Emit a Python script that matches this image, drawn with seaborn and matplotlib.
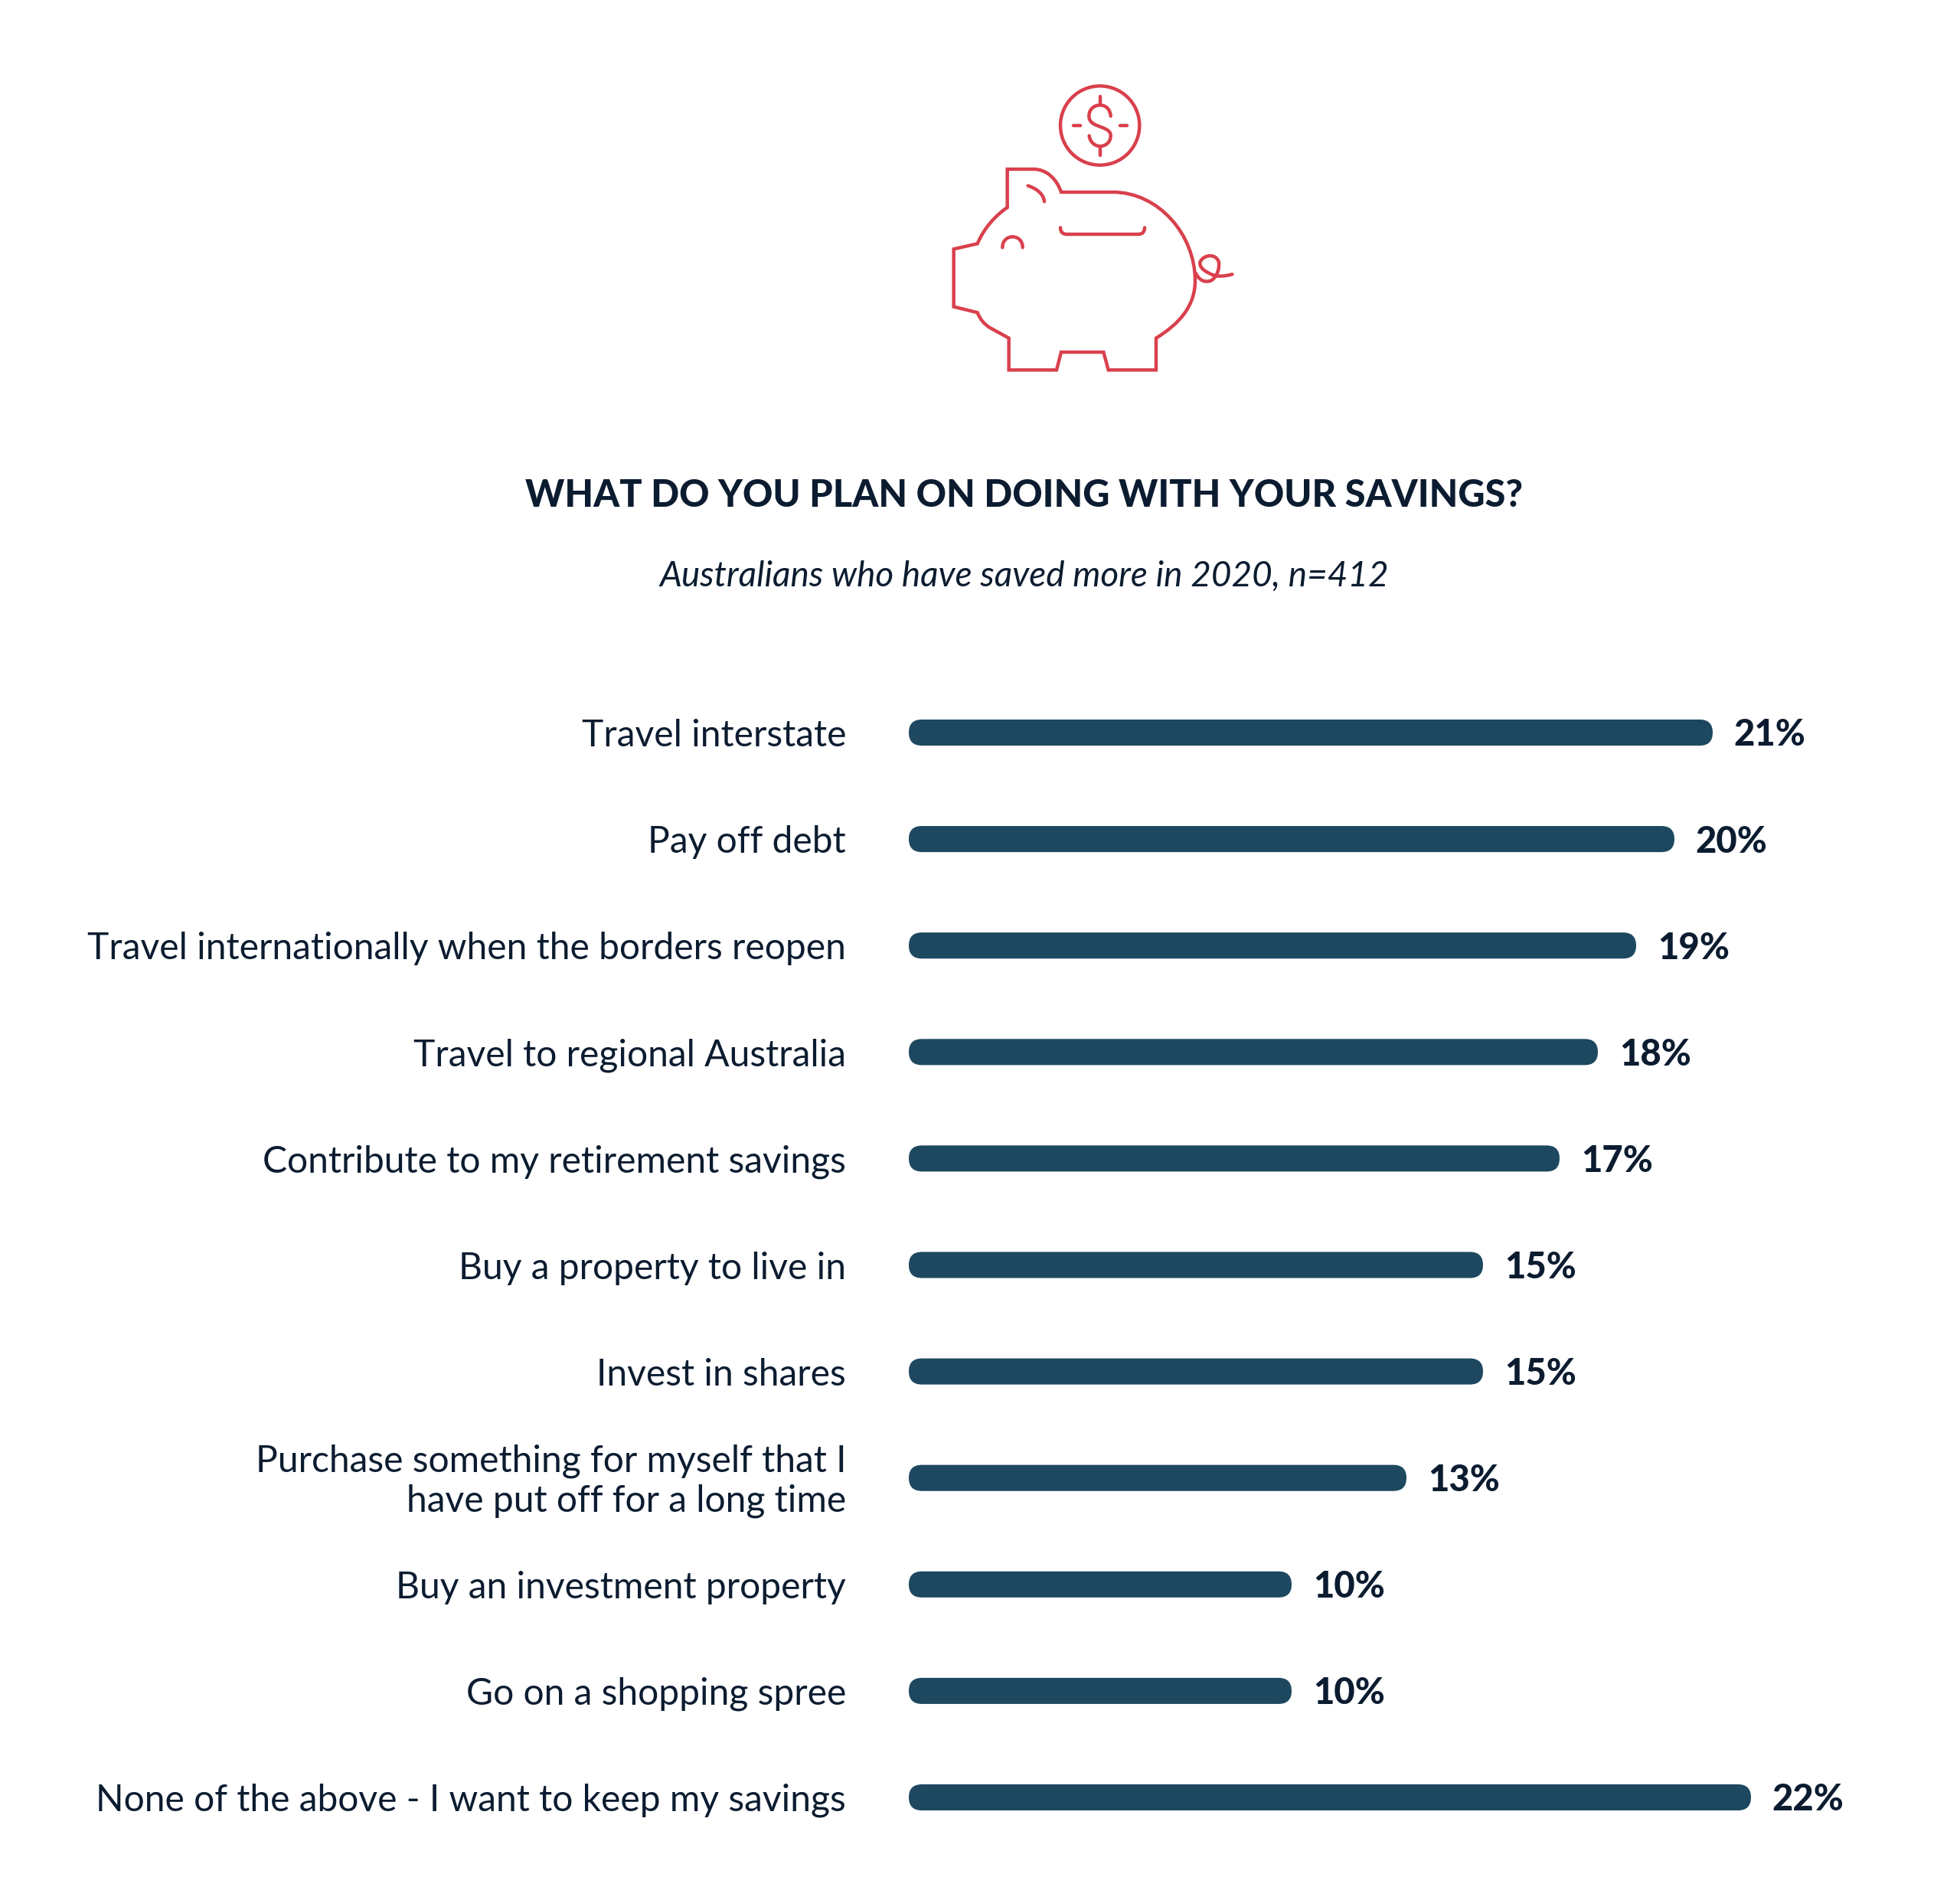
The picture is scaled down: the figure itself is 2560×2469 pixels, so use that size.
import matplotlib
matplotlib.use("Agg")
import matplotlib.pyplot as plt
import pandas as pd
import seaborn as sns
from matplotlib.patches import Circle, FancyBboxPatch, PathPatch
from matplotlib.path import Path
from matplotlib.transforms import ScaledTranslation

categories = [
    "Travel interstate",
    "Pay off debt",
    "Travel internationally when the borders reopen",
    "Travel to regional Australia",
    "Contribute to my retirement savings",
    "Buy a property to live in",
    "Invest in shares",
    "Purchase something for myself that I\nhave put off for a long time",
    "Buy an investment property",
    "Go on a shopping spree",
    "None of the above - I want to keep my savings",
]
values = [21, 20, 19, 18, 17, 15, 15, 13, 10, 10, 22]

title = "WHAT DO YOU PLAN ON DOING WITH YOUR SAVINGS?"
subtitle = "Australians who have saved more in 2020, n=412"

BAR = "#1d4860"
INK = "#0c1c30"
RED = "#d9404c"
W, H, DPI = 2560, 2469, 100

sns.set_theme(style="white")
plt.rcParams["font.family"] = ["Lato", "DejaVu Sans"]

fig = plt.figure(figsize=(W / DPI, H / DPI), dpi=DPI, facecolor="white")

# Chart axes: 50 px per percentage point, 139.1 px per row
left, first_row, row_h, px_per_pct = 1187, 957, 139.1, 50
top = first_row - row_h / 2
height = row_h * len(categories)
ax = fig.add_axes([left / W, 1 - (top + height) / H, (W - left) / W, height / H])

df = pd.DataFrame({"category": categories, "value": values})
sns.barplot(data=df, y="category", x="value", color=BAR, saturation=1,
            width=0.245, ax=ax)
ax.set_xlim(0, (W - left) / px_per_pct)
ax.set_ylim(len(categories) - 0.5, -0.5)
ax.set_xlabel("")
ax.set_ylabel("")
ax.set_xticks([])
sns.despine(ax=ax, left=True, bottom=True)

ax.tick_params(axis="y", length=0, pad=59)
for lab in ax.get_yticklabels():
    lab.set_fontsize(34.6)
    lab.set_color(INK)
    lab.set_linespacing(1.2)
    lab.set_multialignment("right")
    # The two-line label sits a little high against its bar
    if "\n" in lab.get_text():
        lab.set_transform(lab.get_transform()
                          + ScaledTranslation(0, 4 / DPI, fig.dpi_scale_trans))

value_labels = ax.bar_label(ax.containers[0], fmt="%d%%", padding=20, fontsize=34,
                            fontweight="black", color=INK)
# Nudge the value labels down so they sit level with the bars
for txt in value_labels:
    dx, dy = txt.xyann
    txt.xyann = (dx, dy - 2.5)

# Swap the square bar ends for fully rounded caps
aspect = (1 / row_h) / (1 / px_per_pct)
for bar in list(ax.patches):
    x, y, w, h = bar.get_x(), bar.get_y(), bar.get_width(), bar.get_height()
    r = (h / 2) / aspect
    ax.add_patch(FancyBboxPatch((x, y), w, h,
                                boxstyle=f"round,pad=0,rounding_size={r}",
                                mutation_aspect=aspect,
                                facecolor=BAR, edgecolor="none"))
    bar.remove()

fig.text(1338 / W, 1 - 647 / H, title, ha="center", va="center",
         fontsize=35, fontweight="black", color=INK)
fig.text(1338 / W, 1 - 753 / H, subtitle, ha="center", va="center",
         fontsize=33, fontstyle="italic", color=INK)

# Piggy bank icon, drawn in its own 1320 x 1260 unit box
icon = fig.add_axes([1200 / W, 1 - 510 / H, 440 / W, 420 / H])
icon.set_xlim(0, 1320)
icon.set_ylim(1260, 0)
icon.axis("off")

M, L, C = Path.MOVETO, Path.LINETO, Path.CURVE4
ICON_LW = 3.2


def stroke(ops):
    verts, codes = [], []
    for op in ops:
        if len(op) == 1:
            verts.append(op[0])
            codes.append(M if not verts[:-1] else L)
        else:
            verts.extend(op)
            codes.extend([C, C, C])
    icon.add_patch(PathPatch(Path(verts, codes), facecolor="none", edgecolor=RED,
                             lw=ICON_LW, capstyle="round", joinstyle="miter"))


# body
stroke([[(347, 543)], [(347, 393)], [(450, 393)],
        [(500, 393), (540, 430), (558, 483)], [(760, 483)],
        [(940, 483), (1083, 650), (1083, 830)],
        [(1083, 930), (1020, 1000), (930, 1055)],
        [(930, 1180)], [(743, 1180)], [(724, 1110)], [(558, 1110)],
        [(540, 1180)], [(353, 1180)], [(353, 1055)], [(280, 1015)],
        [(255, 1000), (240, 980), (230, 955)],
        [(137, 932)], [(137, 706)], [(230, 685)],
        [(255, 625), (300, 575), (347, 543)]])
# ear, eye, coin slot
stroke([[(428, 458)], [(460, 468), (490, 490), (492, 520)]])
stroke([[(328, 700)], [(328, 644), (407, 644), (407, 700)]])
stroke([[(555, 622)], [(555, 640), (565, 648), (580, 648)], [(860, 648)],
        [(875, 648), (885, 640), (885, 622)]])
# tail
stroke([[(1085, 800)], [(1100, 830), (1120, 838), (1145, 830)],
        [(1170, 815), (1180, 780), (1175, 755)],
        [(1165, 725), (1120, 725), (1103, 755)],
        [(1095, 780), (1130, 800), (1160, 810)],
        [(1180, 815), (1210, 810), (1228, 805)]])
# coin
icon.add_patch(Circle((710, 222), 155, facecolor="none", edgecolor=RED, lw=ICON_LW))
stroke([[(752, 185)], [(750, 155), (730, 142), (710, 142)],
        [(685, 142), (667, 160), (667, 185)],
        [(667, 215), (700, 222), (715, 228)],
        [(740, 238), (752, 245), (752, 262)],
        [(752, 285), (735, 303), (710, 303)],
        [(690, 303), (670, 285), (668, 262)]])
stroke([[(710, 108)], [(710, 142)]])
stroke([[(710, 303)], [(710, 338)]])
stroke([[(605, 222)], [(632, 222)]])
stroke([[(790, 222)], [(817, 222)]])

fig.savefig("out.png", dpi=DPI, facecolor="white")
